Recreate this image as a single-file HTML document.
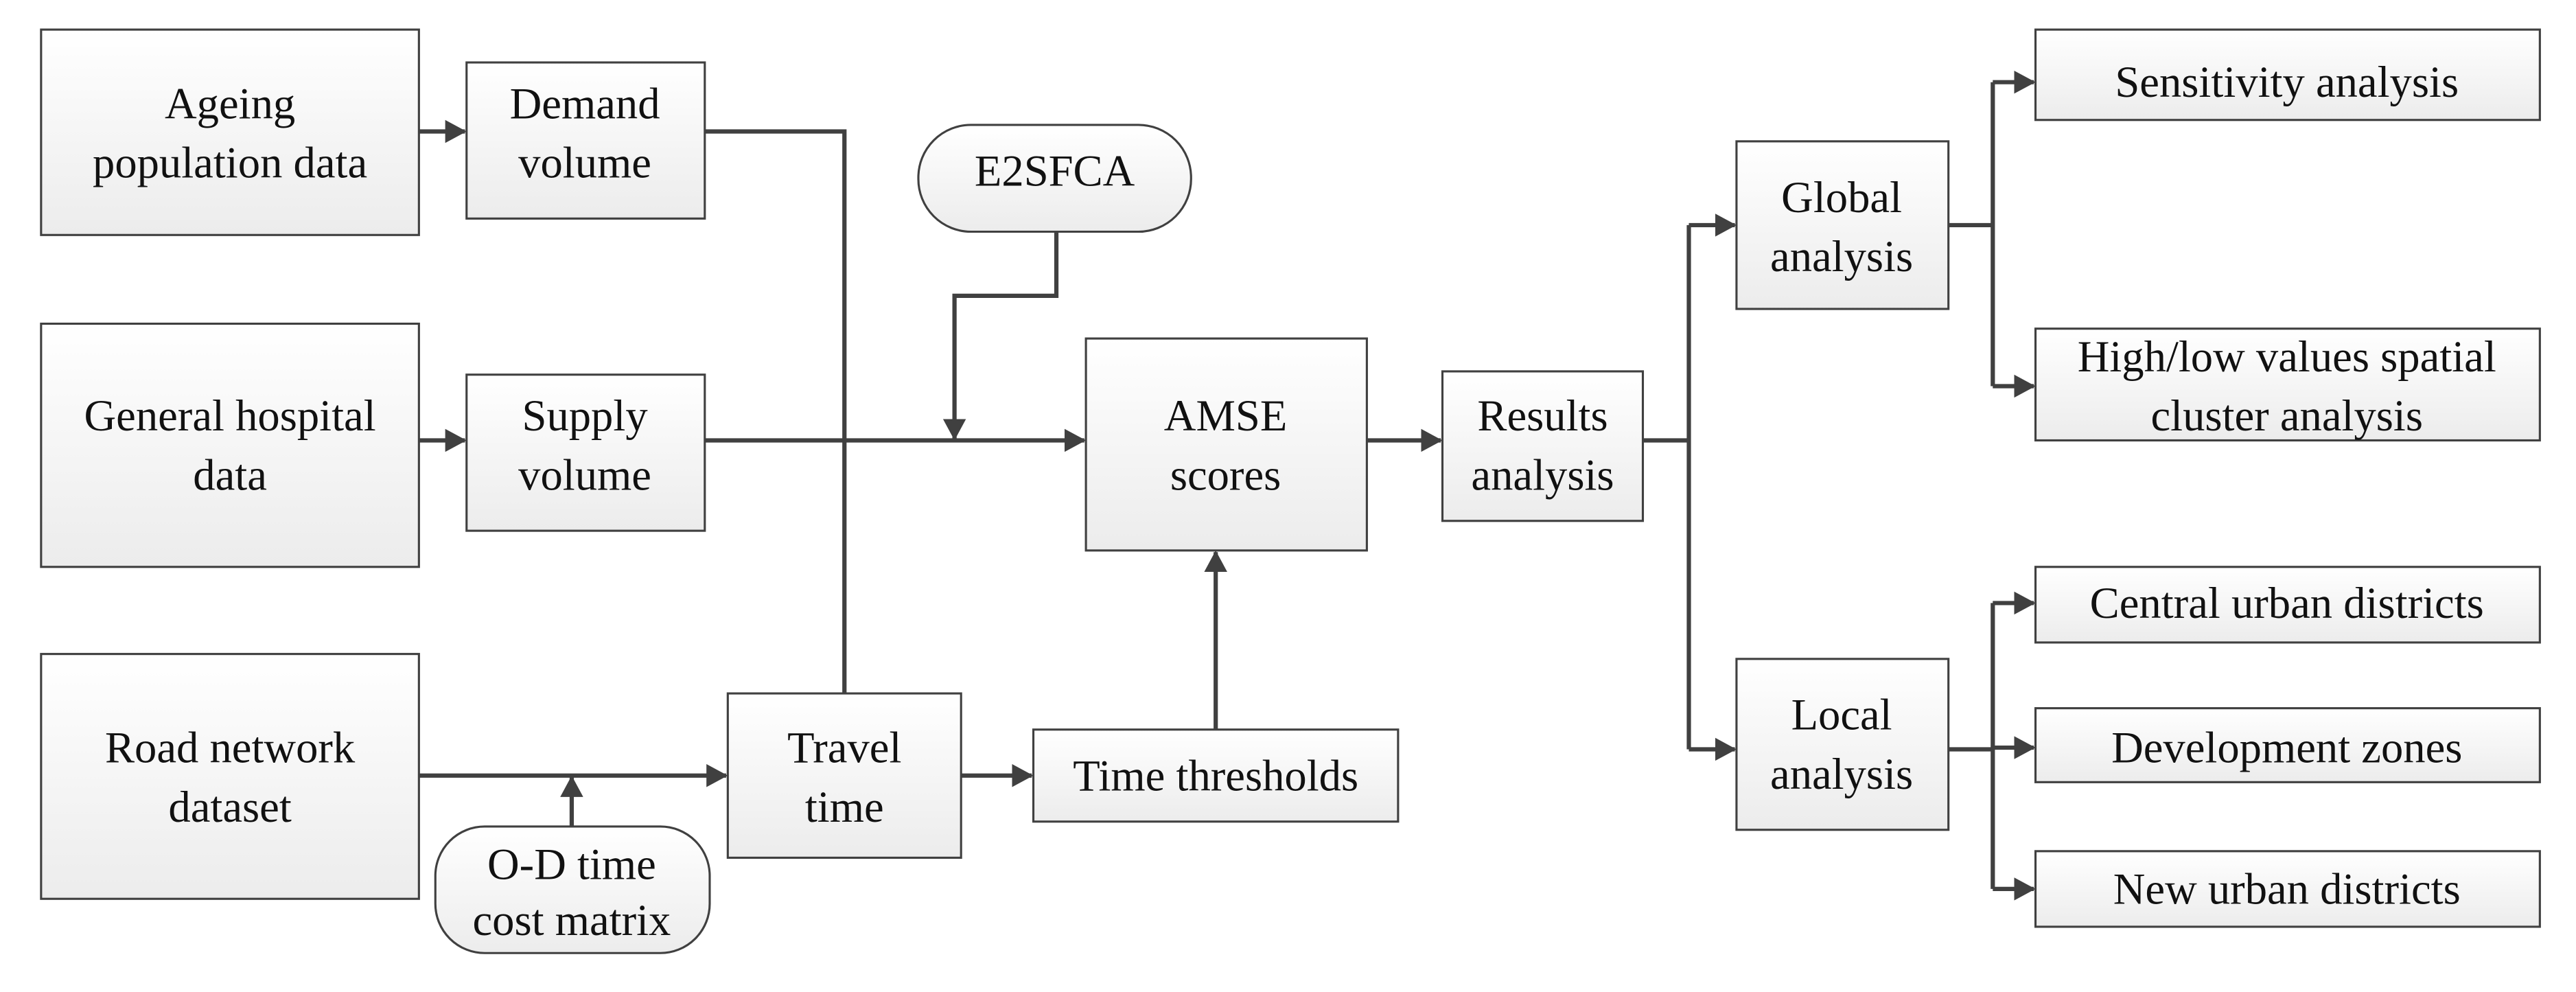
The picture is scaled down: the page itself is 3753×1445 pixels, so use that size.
<!DOCTYPE html>
<html><head><meta charset="utf-8"><style>html,body{margin:0;padding:0;background:#fff}svg{display:block}</style></head>
<body>
<svg width="3753" height="1445" viewBox="0 0 1568 603.7" xmlns="http://www.w3.org/2000/svg" font-family="'Liberation Serif', serif" font-size="27" text-anchor="middle">
<defs>
<linearGradient id="g" x1="0" y1="0" x2="0" y2="1"><stop offset="0" stop-color="#ffffff"/><stop offset="1" stop-color="#ececec"/></linearGradient>
<marker id="a" markerWidth="13" markerHeight="14" refX="12" refY="7" orient="auto" markerUnits="userSpaceOnUse"><path d="M0,0 L13,7 L0,14 Z" fill="#404040"/></marker>
</defs>
<g fill="url(#g)" stroke="#404040" stroke-width="1.3">
<rect x="25" y="18" width="230" height="125"/>
<rect x="284" y="38" width="145" height="95"/>
<rect x="25" y="197" width="230" height="148"/>
<rect x="284" y="228" width="145" height="95"/>
<rect x="25" y="398" width="230" height="149"/>
<rect x="265" y="503" width="167" height="77" rx="30"/>
<rect x="443" y="422" width="142" height="100"/>
<rect x="629" y="444" width="222" height="56"/>
<rect x="661" y="206" width="171" height="129"/>
<rect x="559" y="76" width="166" height="65" rx="32"/>
<rect x="878" y="226" width="122" height="91"/>
<rect x="1057" y="86" width="129" height="102"/>
<rect x="1057" y="401" width="129" height="104"/>
<rect x="1239" y="18" width="307" height="55"/>
<rect x="1239" y="200" width="307" height="68"/>
<rect x="1239" y="345" width="307" height="46"/>
<rect x="1239" y="431" width="307" height="45"/>
<rect x="1239" y="518" width="307" height="46"/>
</g>
<g fill="none" stroke="#404040" stroke-width="2.6">
<path d="M255,80 H283" marker-end="url(#a)"/>
<path d="M255,268 H283" marker-end="url(#a)"/>
<path d="M429,80 H514 V422"/>
<path d="M429,268 H660" marker-end="url(#a)"/>
<path d="M643,141 V180 H581 V267" marker-end="url(#a)"/>
<path d="M255,472 H442" marker-end="url(#a)"/>
<path d="M348,503 V473" marker-end="url(#a)"/>
<path d="M585,472 H628" marker-end="url(#a)"/>
<path d="M740,444 V336" marker-end="url(#a)"/>
<path d="M832,268 H877" marker-end="url(#a)"/>
<path d="M1000,268 H1028"/>
<path d="M1028,137 V456"/>
<path d="M1028,137 H1056" marker-end="url(#a)"/>
<path d="M1028,456 H1056" marker-end="url(#a)"/>
<path d="M1186,137 H1213"/>
<path d="M1213,50 V235"/>
<path d="M1213,50 H1238" marker-end="url(#a)"/>
<path d="M1213,235 H1238" marker-end="url(#a)"/>
<path d="M1186,456 H1213"/>
<path d="M1213,367 V541"/>
<path d="M1213,367 H1238" marker-end="url(#a)"/>
<path d="M1213,455 H1238" marker-end="url(#a)"/>
<path d="M1213,541 H1238" marker-end="url(#a)"/>
</g>
<g fill="#111">
<text x="140" y="72">Ageing</text><text x="140" y="108">population data</text>
<text x="356" y="72">Demand</text><text x="356" y="108">volume</text>
<text x="140" y="262">General hospital</text><text x="140" y="298">data</text>
<text x="356" y="262">Supply</text><text x="356" y="298">volume</text>
<text x="140" y="464">Road network</text><text x="140" y="500">dataset</text>
<text x="348" y="535">O-D time</text><text x="348" y="569">cost matrix</text>
<text x="514" y="464">Travel</text><text x="514" y="500">time</text>
<text x="740" y="481">Time thresholds</text>
<text x="746" y="262">AMSE</text><text x="746" y="298">scores</text>
<text x="642" y="113">E2SFCA</text>
<text x="939" y="262">Results</text><text x="939" y="298">analysis</text>
<text x="1121" y="129">Global</text><text x="1121" y="165">analysis</text>
<text x="1121" y="444">Local</text><text x="1121" y="480">analysis</text>
<text x="1392" y="59">Sensitivity analysis</text>
<text x="1392" y="226">High/low values spatial</text><text x="1392" y="262">cluster analysis</text>
<text x="1392" y="376">Central urban districts</text>
<text x="1392" y="464">Development zones</text>
<text x="1392" y="550">New urban districts</text>
</g>
</svg>
</body></html>
